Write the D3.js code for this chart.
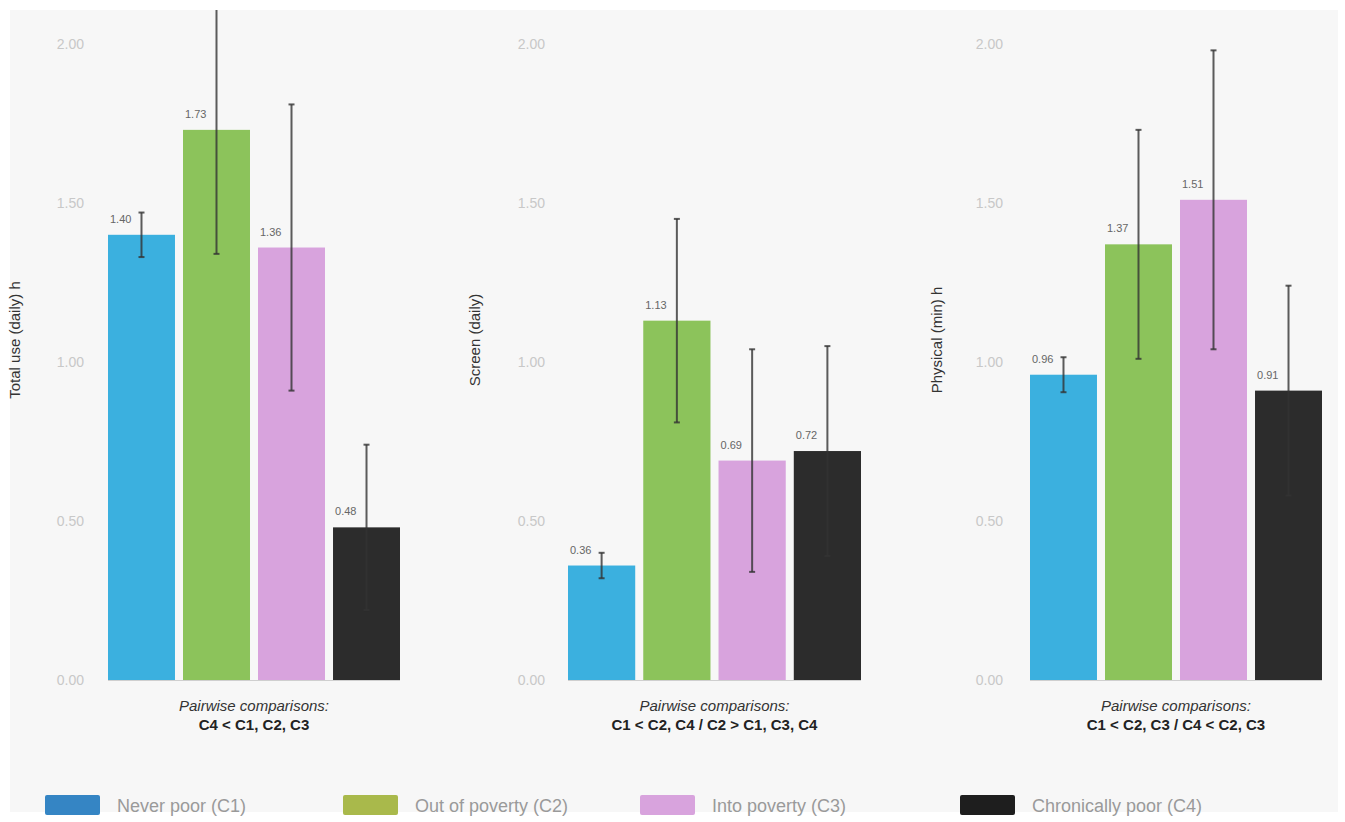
<!DOCTYPE html>
<html>
<head>
<meta charset="utf-8">
<script src="https://cdnjs.cloudflare.com/ajax/libs/d3/7.8.5/d3.min.js"></script>
<style>
  body { margin: 0; background: #fff; }
  svg { display: block; font-family: "Liberation Sans", Arial, sans-serif; }
</style>
</head>
<body>
<svg id="chart" width="1345" height="822"></svg>
<script>
// groups + colours
var groups = ["Never poor (C1)", "Out of poverty (C2)", "Into poverty (C3)", "Chronically poor (C4)"];
var colors = ["#3bb0df", "#8cc35b", "#d8a3dd", "#2c2c2c"];
var legendColors = ["#3585c4", "#a9b94b", "#d8a3dd", "#1e1e1e"];

// y ticks (same for every panel)
var tickValues = [0, 0.5, 1.0, 1.5, 2.0];

// panel texts
var yTitles = ["Total use (daily) h", "Screen (daily)", "Physical (min) h"];
var comparisons = ["C4 < C1, C2, C3", "C1 < C2, C4 / C2 > C1, C3, C4", "C1 < C2, C3 / C4 < C2, C3"];

// means and error half-widths
var means1 = [1.40, 1.73, 1.36, 0.48];
var errs1  = [0.07, 0.39, 0.45, 0.26];
var means2 = [0.36, 1.13, 0.69, 0.72];
var errs2  = [0.04, 0.32, 0.35, 0.33];
var means3 = [0.96, 1.37, 1.51, 0.91];
var errs3  = [0.055, 0.36, 0.47, 0.33];

var panels = [
  {means: means1, errs: errs1, x0: 108, x1: 400, labelX: 84, titleX: 20},
  {means: means2, errs: errs2, x0: 568, x1: 861, labelX: 545, titleX: 480},
  {means: means3, errs: errs3, x0: 1030, x1: 1322, labelX: 1003, titleX: 942}
];

var svg = d3.select("#chart");

// grey plot background
svg.append("rect").attr("x", 10).attr("y", 10).attr("width", 1328).attr("height", 802).attr("fill", "#f7f7f7");

svg.append("defs").append("clipPath").attr("id", "clip")
  .append("rect").attr("x", 10).attr("y", 10).attr("width", 1328).attr("height", 802);

var y = d3.scaleLinear().domain([0, 2]).range([680, 44]);

panels.forEach(function(p, pi) {
  var x = d3.scaleBand().domain(groups).range([p.x0, p.x1]).paddingInner(0.107).paddingOuter(0);
  var g = svg.append("g").attr("clip-path", "url(#clip)");

  // y axis, labels only
  var axis = svg.append("g").attr("transform", "translate(" + p.labelX + ",0)")
    .call(d3.axisLeft(y).tickValues(tickValues).tickSize(0).tickPadding(0).tickFormat(d3.format(".2f")));
  axis.select(".domain").remove();
  axis.selectAll("text").attr("fill", "#c8c8c8").attr("font-size", 14);

  // baseline
  svg.append("line").attr("x1", p.x0).attr("x2", p.x1).attr("y1", y(0) + 0.5).attr("y2", y(0) + 0.5)
    .attr("stroke", "#cfcfcf").attr("stroke-width", 1);

  // bars
  g.selectAll("rect.bar").data(p.means).enter().append("rect")
    .attr("class", "bar")
    .attr("x", function(d, i) { return x(groups[i]); })
    .attr("y", function(d) { return y(d); })
    .attr("width", x.bandwidth())
    .attr("height", function(d) { return y(0) - y(d); })
    .attr("fill", function(d, i) { return colors[i]; });

  // error bars
  var eb = g.selectAll("g.err").data(p.means).enter().append("g").attr("class", "err");
  eb.append("line")
    .attr("x1", function(d, i) { return x(groups[i]) + x.bandwidth() / 2; })
    .attr("x2", function(d, i) { return x(groups[i]) + x.bandwidth() / 2; })
    .attr("y1", function(d, i) { return y(d + p.errs[i]); })
    .attr("y2", function(d, i) { return y(d - p.errs[i]); })
    .attr("stroke", "#333").attr("stroke-opacity", 0.8).attr("stroke-width", 2);
  ["plus", "minus"].forEach(function(side) {
    eb.append("line")
      .attr("x1", function(d, i) { return x(groups[i]) + x.bandwidth() / 2 - 3; })
      .attr("x2", function(d, i) { return x(groups[i]) + x.bandwidth() / 2 + 3; })
      .attr("y1", function(d, i) { return y(side == "plus" ? d + p.errs[i] : d - p.errs[i]); })
      .attr("y2", function(d, i) { return y(side == "plus" ? d + p.errs[i] : d - p.errs[i]); })
      .attr("stroke", "#333").attr("stroke-opacity", 0.8).attr("stroke-width", 2);
  });

  // value labels over bars
  svg.selectAll("text.val" + pi).data(p.means).enter().append("text")
    .attr("class", "val" + pi)
    .attr("x", function(d, i) { return x(groups[i]) + 2; })
    .attr("y", function(d, i) { return y(d) - 12; })
    .attr("font-size", 11)
    .attr("fill", "#666")
    .text(function(d) { return d.toFixed(2); });

  // y title
  svg.append("text")
    .attr("transform", "translate(" + p.titleX + "," + 340 + ") rotate(-90)")
    .attr("text-anchor", "middle")
    .attr("font-size", 15)
    .attr("fill", "#333")
    .text(yTitles[pi]);

  // pairwise comparisons
  var cx = (p.x0 + p.x1) / 2;
  svg.append("text").attr("x", cx).attr("y", 711).attr("text-anchor", "middle")
    .attr("font-size", 15).attr("font-style", "italic").attr("fill", "#333")
    .text("Pairwise comparisons:");
  svg.append("text").attr("x", cx).attr("y", 730).attr("text-anchor", "middle")
    .attr("font-size", 15).attr("font-weight", "bold").attr("fill", "#222")
    .text(comparisons[pi]);
});

// legend
var legendX = [45, 343, 640, 960];
var legend = svg.selectAll("g.legend").data(groups).enter().append("g")
  .attr("class", "legend")
  .attr("transform", function(d, i) { return "translate(" + legendX[i] + ",795)"; });
legend.append("rect").attr("width", 55).attr("height", 20).attr("rx", 2)
  .attr("fill", function(d, i) { return legendColors[i]; });
legend.append("text").attr("x", 72).attr("y", 17).attr("font-size", 18).attr("fill", "#9a9a9a")
  .text(function(d) { return d; });
</script>
</body>
</html>
